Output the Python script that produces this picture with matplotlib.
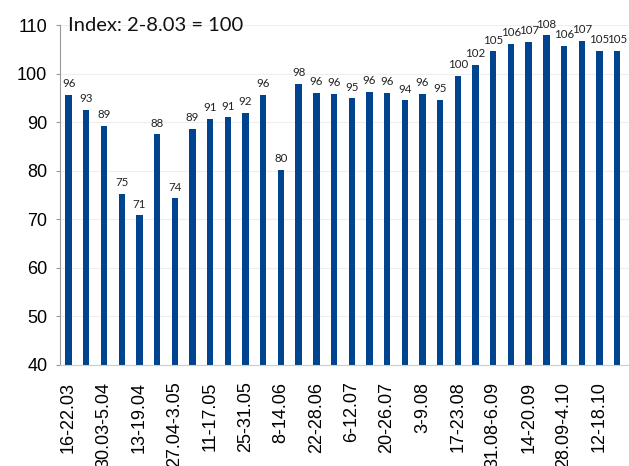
import numpy as np
import matplotlib.pyplot as plt

# Weekly index, 2-8.03 = 100
weeks = ["16-22.03", "23-29.03", "30.03-5.04", "6-12.04", "13-19.04", "20-26.04",
         "27.04-3.05", "4-10.05", "11-17.05", "18-24.05", "25-31.05", "1-7.06",
         "8-14.06", "15-21.06", "22-28.06", "29.06-5.07", "6-12.07", "13-19.07",
         "20-26.07", "27.07-2.08", "3-9.08", "10-16.08", "17-23.08", "24-30.08",
         "31.08-6.09", "7-13.09", "14-20.09", "21-27.09", "28.09-4.10", "5-11.10",
         "12-18.10", "19-25.10"]
index_values = [95.7, 92.6, 89.3, 75.2, 70.8, 87.5, 74.3, 88.7, 90.6, 91.0, 91.9, 95.6,
                80.2, 97.9, 96.0, 95.9, 94.9, 96.3, 96.1, 94.5, 95.9, 94.6, 99.5, 101.8,
                104.6, 106.1, 106.6, 107.9, 105.8, 106.8, 104.7, 104.7]
yticks = [40, 50, 60, 70, 80, 90, 100, 110]

bar_color = "#00438F"
x = np.arange(len(weeks))

fig = plt.figure(figsize=(6.29, 4.66), dpi=100)
ax = fig.add_axes([0.095, 0.217, 0.905, 0.729])

ax.bar(x, index_values, width=0.36, color=bar_color)
for xi, v in zip(x, index_values):
    ax.text(xi, v + 1.2, f"{v:.0f}", ha="center", va="bottom",
            fontsize=8.3, family="Lato", color="#222222")

ax.set_ylim(40, 110)
ax.set_xlim(-0.5, len(weeks) - 0.33)
ax.set_yticks(yticks)
ax.set_yticklabels([str(t) for t in yticks], fontsize=13, family="Liberation Sans")
ax.set_xticks(x[::2])
ax.set_xticklabels(weeks[::2], rotation=90, fontsize=13, family="Liberation Sans")
ax.tick_params(axis="x", length=0, pad=12)
ax.tick_params(axis="y", length=3, color="#999999", pad=6)

ax.grid(axis="y", color="#eeeeee", linewidth=0.8)
ax.set_axisbelow(True)
for side in ["top", "right"]:
    ax.spines[side].set_visible(False)
ax.spines["left"].set_color("#999999")
ax.spines["bottom"].set_color("#cccccc")

ax.text(0.015, 1.0, "Index: 2-8.03 = 100", transform=ax.transAxes,
        fontsize=14.5, family="Lato", ha="left", va="center", color="#111111")

fig.savefig("out.png", dpi=100)
